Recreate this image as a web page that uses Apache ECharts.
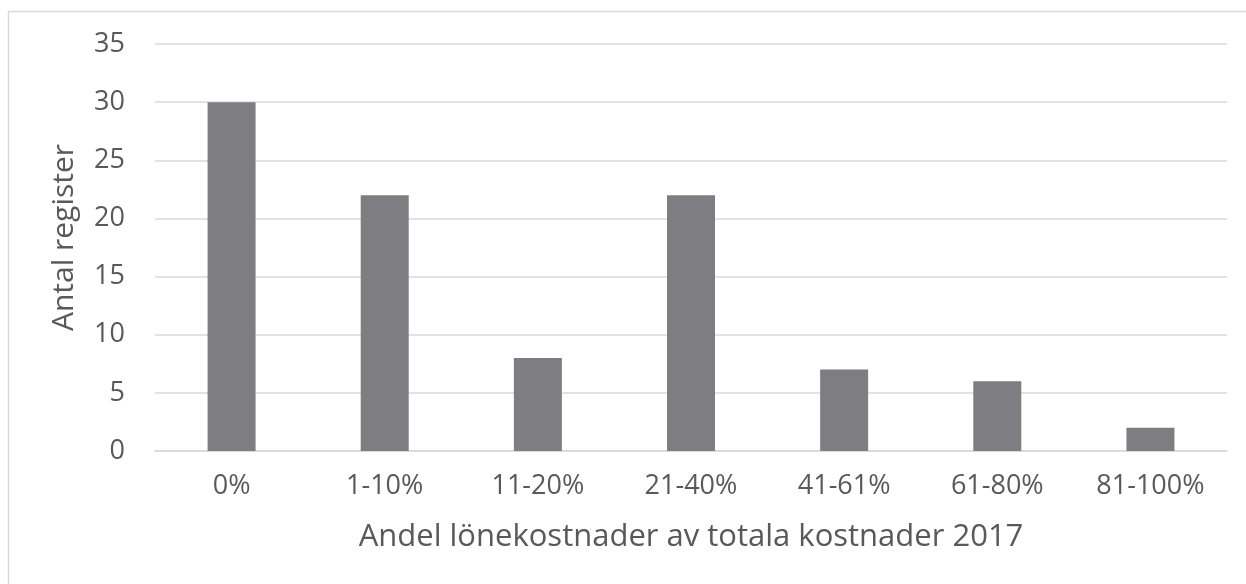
<!DOCTYPE html>
<html>
<head>
<meta charset="utf-8">
<script src="https://cdn.jsdelivr.net/npm/echarts@6/dist/echarts.min.js"></script>
<style>
  html, body { margin: 0; padding: 0; background: #fff; }
  #chart { width: 1246px; height: 584px; }
</style>
</head>
<body>
<div id="chart"></div>
<script>
// Antal register per andel lönekostnader
const categories = ['0%', '1-10%', '11-20%', '21-40%', '41-61%', '61-80%', '81-100%'];
const values = [30, 22, 8, 22, 7, 6, 2];
const xTitle = 'Andel lönekostnader av totala kostnader 2017';
const yTitle = 'Antal register';

const font = 'Open Sans';
const chart = echarts.init(document.getElementById('chart'));
chart.setOption({
  animation: false,
  backgroundColor: '#fff',
  graphic: [{
    type: 'rect',
    shape: { x: 8.5, y: 11.5, width: 1260, height: 600 },
    style: { fill: 'none', stroke: '#d9d9d9', lineWidth: 1.5 },
    silent: true
  }],
  grid: { left: 155, right: 19, top: 44, bottom: 133 },
  xAxis: {
    type: 'category',
    data: categories,
    axisLine: { show: true, lineStyle: { color: '#d9d9d9', width: 1.5 } },
    axisTick: { show: false },
    axisLabel: { color: '#595959', fontFamily: font, fontSize: 27, margin: 22 },
    name: xTitle,
    nameLocation: 'middle',
    nameGap: 71,
    nameTextStyle: { color: '#595959', fontFamily: font, fontSize: 31 }
  },
  yAxis: {
    type: 'value',
    min: 0, max: 35, interval: 5,
    axisLine: { show: false },
    axisTick: { show: false },
    splitLine: { lineStyle: { color: '#d9d9d9', width: 1.5 } },
    axisLabel: { color: '#595959', fontFamily: font, fontSize: 27, margin: 30 },
    name: yTitle,
    nameLocation: 'middle',
    nameGap: 76,
    nameTextStyle: { color: '#595959', fontFamily: font, fontSize: 30, padding: [0, 0, 0, 20] }
  },
  series: [{
    type: 'bar',
    data: values,
    barWidth: 48,
    itemStyle: { color: '#7e7d82' }
  }]
});
</script>
</body>
</html>
